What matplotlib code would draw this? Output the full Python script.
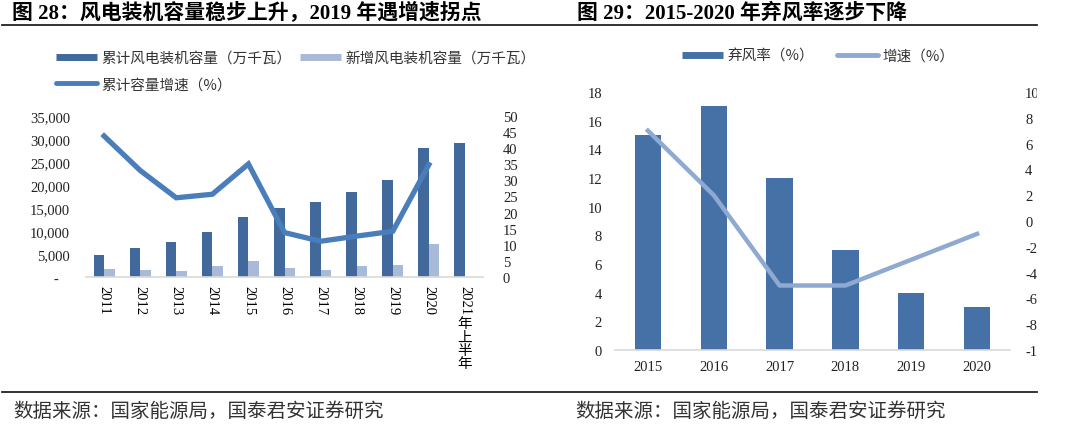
import matplotlib
matplotlib.use('Agg')
import matplotlib.pyplot as plt
from matplotlib.lines import Line2D
import numpy as np

# ---- data: left chart (wind power installed capacity) ----
years_l = ['2011', '2012', '2013', '2014', '2015', '2016', '2017', '2018',
           '2019', '2020', '2021年上半年']
cum_cap = [4700, 6200, 7700, 9700, 13000, 14900, 16400, 18400, 21000, 28100, 29200]
new_cap = [1800, 1550, 1350, 2300, 3500, 2050, 1600, 2300, 2700, 7250, np.nan]
cum_growth = [43.8, 33.1, 24.6, 25.7, 35.1, 13.8, 11.1, 12.7, 14.2, 34.9, np.nan]
yl_ticks = [0, 5000, 10000, 15000, 20000, 25000, 30000, 35000]
yr_ticks = [0, 5, 10, 15, 20, 25, 30, 35, 40, 45, 50]

# ---- data: right chart (curtailment rate) ----
years_r = ['2015', '2016', '2017', '2018', '2019', '2020']
curtail = [15, 17, 12, 7, 4, 3]
growth = [7, 2, -5, -5, -3, -1]
y2l_ticks = [0, 2, 4, 6, 8, 10, 12, 14, 16, 18]
y2r_ticks = [-10, -8, -6, -4, -2, 0, 2, 4, 6, 8, 10]

SERIF = ['Liberation Serif', 'Noto Sans CJK SC']
CJK = ['Noto Sans CJK SC', 'DejaVu Sans']

DARK = '#41699b'
LIGHT = '#a9bad8'
LINE = '#4a7ebb'
BAR2 = '#4571a7'
LINE2 = '#8eaad2'
AXIS = '#d9d9d9'
TXT = '#333333'

fig = plt.figure(figsize=(10.8, 4.27), dpi=100)
W, H = 1080, 427
PT = 0.72  # points per pixel at dpi 100


def fx(px):
    return px / W


def fy(py):
    return 1 - py / H


# titles and rules
fig.text(fx(12), fy(13), '图 28：风电装机容量稳步上升，2019 年遇增速拐点', family=SERIF,
         fontsize=15, fontweight='bold', va='center', ha='left')
fig.text(fx(577), fy(13), '图 29：2015-2020 年弃风率逐步下降', family=SERIF,
         fontsize=15, fontweight='bold', va='center', ha='left')
fig.add_artist(Line2D([fx(2), fx(1037)], [fy(26), fy(26)], color='#222222', lw=1.3))
fig.add_artist(Line2D([fx(2), fx(1037)], [fy(393), fy(393)], color='#222222', lw=1.3))
fig.text(fx(13), fy(411), '数据来源：国家能源局，国泰君安证券研究', family=CJK,
         fontsize=14, color=TXT, va='center', ha='left')
fig.text(fx(575), fy(411), '数据来源：国家能源局，国泰君安证券研究', family=CJK,
         fontsize=14, color=TXT, va='center', ha='left')

# ---------------- left chart ----------------
ax = fig.add_axes([fx(86), fy(278), fx(483 - 86), fy(117) - fy(278)])
x = np.arange(len(years_l))
bw = 0.29
ax.bar(x - bw / 2, cum_cap, bw, color=DARK, zorder=2)
ax.bar(x + bw / 2, new_cap, bw, color=LIGHT, zorder=2)
ax.set_ylim(0, 35000)
ax.set_xlim(-0.5, len(years_l) - 0.5)
ax.set_yticks(yl_ticks)
ax.set_yticklabels([f'{v:,}' if v else '-   ' for v in yl_ticks], family=SERIF, fontsize=10.5)
ax.tick_params(axis='y', length=0, pad=16 * PT, colors='#222222')
ax.set_xticks(x)
ax.set_xticklabels([y[:4] for y in years_l], family=SERIF, fontsize=10.5,
                   rotation=270, va='top', ha='center')
ax.tick_params(axis='x', length=0, pad=8 * PT)
for s in ['top', 'left', 'right']:
    ax.spines[s].set_visible(False)
ax.spines['bottom'].set_color(AXIS)
ax.spines['bottom'].set_linewidth(1.2)
# upright stacked CJK part of the last category label
rest = years_l[-1][4:]
ax.text(x[-1], -0.245, '\n'.join(rest), transform=ax.get_xaxis_transform(),
        family=CJK, fontsize=10.5, ha='center', va='top', linespacing=0.92)

ax2 = ax.twinx()
ax2.plot(x, cum_growth, color=LINE, lw=3.8, solid_joinstyle='miter', zorder=3)
ax2.set_ylim(0, 50)
ax2.set_yticks(yr_ticks)
ax2.set_yticklabels([str(v) for v in yr_ticks], family=SERIF, fontsize=10.5)
ax2.tick_params(axis='y', length=0, pad=20 * PT, colors='#222222')
for s in ['top', 'left', 'right', 'bottom']:
    ax2.spines[s].set_visible(False)

handles = [Line2D([], [], color=DARK, lw=5, solid_capstyle='butt'),
           Line2D([], [], color=LINE, lw=3.5, solid_capstyle='round'),
           Line2D([], [], color=LIGHT, lw=5, solid_capstyle='butt')]
labels = ['累计风电装机容量（万千瓦）', '累计容量增速（%）', '新增风电装机容量（万千瓦）']
fig.legend(handles, labels, ncol=2, loc='upper left', bbox_to_anchor=(fx(50), fy(46)),
           frameon=False, prop={'family': CJK, 'size': 10.5}, handlelength=2.8,
           handletextpad=0.3, columnspacing=0.6, labelspacing=0.85, labelcolor=TXT,
           borderaxespad=0)

# ---------------- right chart ----------------
bx = fig.add_axes([fx(615), fy(351), fx(1010 - 615), fy(93) - fy(351)])
xr = np.arange(len(years_r))
bx.bar(xr, curtail, 0.4, color=BAR2, zorder=2)
bx.set_ylim(0, 18)
bx.set_xlim(-0.5, len(years_r) - 0.5)
bx.set_yticks(y2l_ticks)
bx.set_yticklabels([str(v) for v in y2l_ticks], family=SERIF, fontsize=10.5)
bx.tick_params(axis='y', length=0, pad=13 * PT, colors='#222222')
bx.set_xticks(xr)
bx.set_xticklabels(years_r, family=SERIF, fontsize=10.5)
bx.tick_params(axis='x', length=0, pad=10 * PT, colors='#222222')
for s in ['top', 'left', 'right']:
    bx.spines[s].set_visible(False)
bx.spines['bottom'].set_color(AXIS)
bx.spines['bottom'].set_linewidth(1.2)

bx2 = bx.twinx()
bx2.plot(xr, growth, color=LINE2, lw=3.2, zorder=3)
bx2.set_ylim(-10, 10)
bx2.set_yticks(y2r_ticks)
bx2.set_yticklabels([str(v) for v in y2r_ticks], family=SERIF, fontsize=10.5)
bx2.tick_params(axis='y', length=0, pad=15 * PT, colors='#222222')
for s in ['top', 'left', 'right', 'bottom']:
    bx2.spines[s].set_visible(False)

handles_r = [Line2D([], [], color=BAR2, lw=5, solid_capstyle='butt'),
             Line2D([], [], color=LINE2, lw=3.5, solid_capstyle='round')]
fig.legend(handles_r, ['弃风率（%）', '增速（%）'], ncol=2, loc='center',
           bbox_to_anchor=(fx(818), fy(57)), frameon=False,
           prop={'family': CJK, 'size': 10.5}, handlelength=2.8,
           handletextpad=0.3, columnspacing=1.6, labelcolor=TXT)

# the right-hand tick labels are cut off at the panel edge in the original
fig.add_artist(plt.Rectangle((fx(1037), fy(380)), 1 - fx(1037), fy(70) - fy(380),
                             transform=fig.transFigure, color='white', zorder=10))

fig.savefig('out.png', dpi=100, facecolor='white')
